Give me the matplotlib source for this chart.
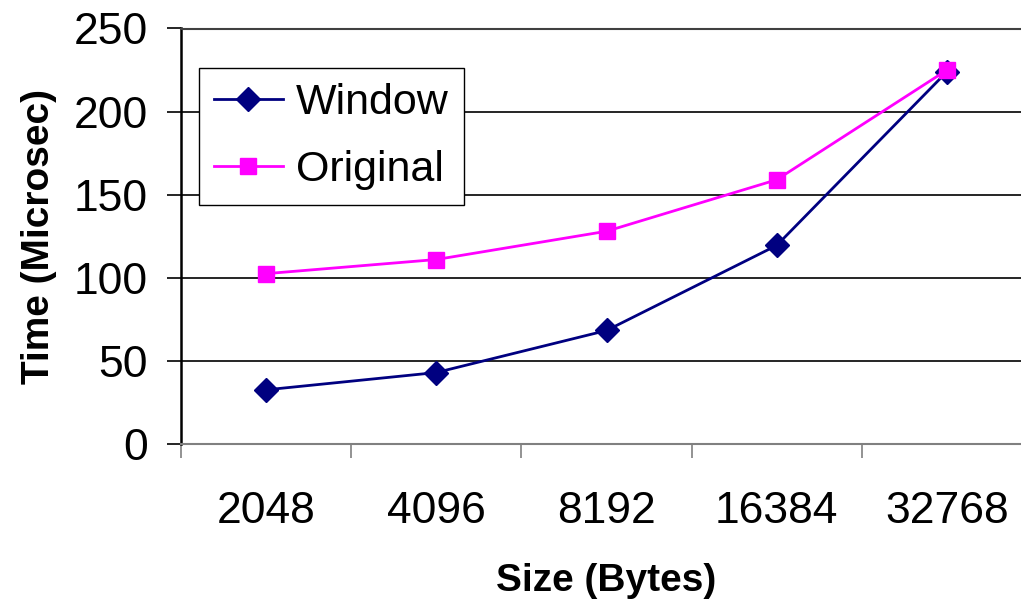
import numpy as np
import matplotlib.pyplot as plt
from matplotlib.ticker import FixedLocator

plt.rcParams['font.family'] = ['Liberation Sans', 'DejaVu Sans']

sizes = ['2048', '4096', '8192', '16384', '32768']
window = [32.6, 43, 68.3, 119.5, 224]
original = [102.5, 111, 128, 159, 225]

fig = plt.figure(figsize=(10.21, 6), dpi=100)
ax = fig.add_axes([0.1773, 0.26, 0.8335, 0.6925])

x = np.arange(len(sizes))
ax.plot(x, window, color='#000080', lw=2, marker='D', ms=12, label='Window', zorder=3)
ax.plot(x, original, color='#FF00FF', lw=2, marker='s', ms=12, label='Original', zorder=3)

ax.set_xlim(-0.5, len(sizes) - 0.5)
ax.set_ylim(0, 250)
ax.set_yticks([0, 50, 100, 150, 200, 250])
ax.yaxis.grid(True, color='black', lw=1.2)
ax.set_axisbelow(True)

# category boundaries get the tick marks, labels sit in the middle
ax.xaxis.set_major_locator(FixedLocator(np.arange(len(sizes) + 1) - 0.5))
ax.xaxis.set_minor_locator(FixedLocator(x))
ax.set_xticklabels([''] * (len(sizes) + 1))
ax.set_xticklabels(sizes, minor=True)
ax.tick_params(axis='x', which='major', direction='out', length=10, width=1.2, color='#808080')
ax.tick_params(axis='x', which='minor', length=0, pad=34, labelsize=32)
ax.tick_params(axis='y', direction='out', length=10, width=1.2, pad=14, labelsize=32)

ax.spines['right'].set_visible(False)
ax.spines['top'].set_color('#404040')
ax.spines['top'].set_linewidth(1.5)
ax.spines['left'].set_linewidth(1.8)
ax.spines['bottom'].set_color('#808080')
ax.spines['bottom'].set_linewidth(1.5)

ax.set_xlabel('Size (Bytes)', fontsize=28, fontweight='bold', labelpad=22)
ax.set_ylabel('Time (Microsec)', fontsize=28, fontweight='bold', labelpad=12)

leg = ax.legend(loc='upper left', bbox_to_anchor=(0.021, 0.905), fontsize=31,
                frameon=True, fancybox=False, edgecolor='black', framealpha=1,
                borderaxespad=0, handlelength=1.6, handletextpad=0.3,
                borderpad=0.35, labelspacing=0.62)
leg.get_frame().set_linewidth(1.0)

fig.savefig('out.png', dpi=100)
